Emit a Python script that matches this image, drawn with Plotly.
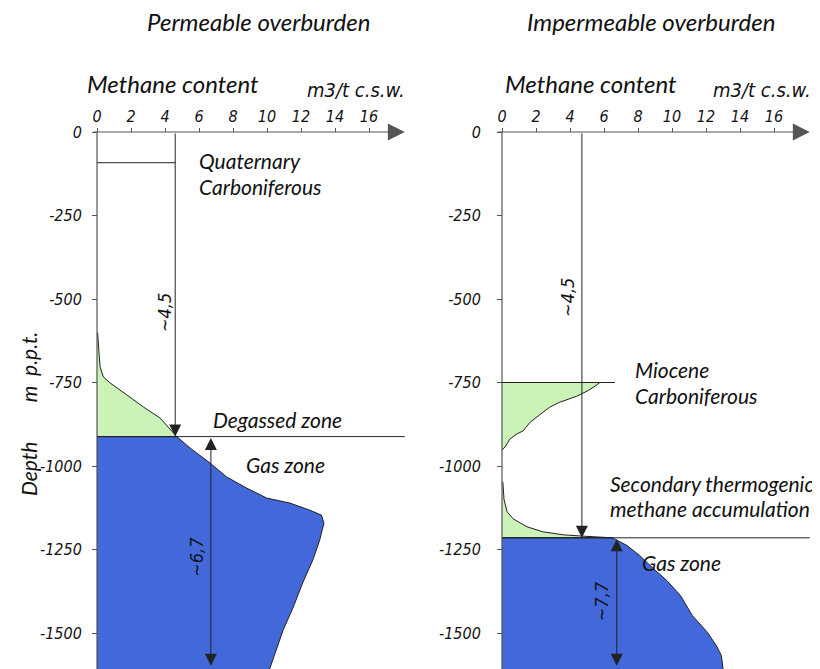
import plotly.graph_objects as go

# ---------------- data ----------------
x_ticks = [0, 2, 4, 6, 8, 10, 12, 14, 16]
y_ticks = [0, -250, -500, -750, -1000, -1250, -1500]
y_ticktext = ["0", "-250", "-500", "-750", "-1000", "-1250", "-1500"]

# Left panel: permeable overburden
L_degassed_x = [0, 0.04, 0.12, 0.18, 0.37, 0.76, 1.75, 2.72, 3.7, 4.69, 0]
L_degassed_y = [-602, -602, -662, -703, -733, -751, -787, -823, -856, -912, -912]
L_gas_x = [0, 4.69, 5.47, 6.65, 7.63, 8.8, 9.98, 11.35, 12.5, 13.2, 13.35, 13.1,
           12.7, 12.1, 11.55, 10.95, 10.4, 10.0, 0]
L_gas_y = [-912, -912, -946, -991, -1033, -1066, -1096, -1111, -1132, -1147, -1171,
           -1222, -1281, -1350, -1422, -1491, -1572, -1630, -1630]
L_quaternary_depth = -92
L_degassed_depth = -912
L_mean_degassed = 4.6
L_gas_arrow_x = 6.7

# Right panel: impermeable overburden
R_miocene_x = [0, 5.76, 5.47, 5.0, 4.4, 3.4, 2.8, 2.25, 1.65, 1.24, 0.88, 0.47, 0.18, 0]
R_miocene_y = [-750, -750, -761, -776, -791, -809, -824, -845, -869, -895, -904, -919, -943, -952]
R_secondary_x = [0, 0.05, 0.12, 0.3, 0.65, 1.47, 2.4, 3.6, 4.76, 6.2, 6.5, 0]
R_secondary_y = [-1048, -1048, -1100, -1137, -1158, -1182, -1197, -1206, -1210, -1213, -1215, -1215]
R_gas_x = [0, 6.5, 7.35, 8.1, 8.9, 9.7, 10.5, 11.2, 12.05, 12.6, 12.9, 13.0, 13.0, 0]
R_gas_y = [-1215, -1215, -1238, -1268, -1307, -1343, -1388, -1448, -1496, -1537, -1567,
           -1605, -1630, -1630]
R_miocene_depth = -750
R_secondary_depth = -1215
R_mean_secondary = 4.7
R_gas_arrow_x = 6.75

GREEN = "rgb(203,243,183)"
BLUE = "rgb(66,104,218)"
LINE = "#222222"
AXC = "#555555"

TXT_FONT = "Lato, Open Sans, sans-serif"
TECH_FONT = "DejaVu Sans Condensed, DejaVu Sans, sans-serif"

OFF = 8                      # page body margin
W, H = 820 - OFF, 669 - OFF
PX_PER_UNIT = 17.0
PX_PER_M = 0.334
ZERO_Y = 132                 # page pixel of depth 0
Y_TOP = (ZERO_Y - OFF) / PX_PER_M
Y_BOT = -(669 - ZERO_Y) / PX_PER_M

fig = go.Figure()

def poly(x, y, color, xa, ya):
    fig.add_trace(go.Scatter(x=x, y=y, mode="lines", fill="toself", fillcolor=color,
                             line=dict(color=LINE, width=1), xaxis=xa, yaxis=ya,
                             hoverinfo="skip", showlegend=False))

poly(L_degassed_x, L_degassed_y, GREEN, "x", "y")
poly(L_gas_x, L_gas_y, BLUE, "x", "y")
poly(R_miocene_x, R_miocene_y, GREEN, "x2", "y2")
poly(R_secondary_x, R_secondary_y, GREEN, "x2", "y2")
poly(R_gas_x, R_gas_y, BLUE, "x2", "y2")

shapes = []
def hline(xr, x0, x1, y, color=LINE, w=1):
    shapes.append(dict(type="line", xref=xr, yref=xr.replace("x", "y"), x0=x0, x1=x1,
                       y0=y, y1=y, line=dict(color=color, width=w)))
def vline(xr, x, y0, y1, color=LINE, w=1):
    shapes.append(dict(type="line", xref=xr, yref=xr.replace("x", "y"), x0=x, x1=x,
                       y0=y0, y1=y1, line=dict(color=color, width=w)))

vline("x", 0, 0, Y_BOT - 20, AXC, 1.2)
hline("x", 0, L_mean_degassed, L_quaternary_depth)
hline("x", 0, 18.1, L_degassed_depth)
vline("x2", 0, 0, Y_BOT - 20, AXC, 1.2)
hline("x2", 0, 6.65, R_miocene_depth)
hline("x2", 0, 18.1, R_secondary_depth)

annotations = []
def arrow(xr, x, y, ax, ay, color=LINE, size=2.4, both=False, w=1):
    annotations.append(dict(xref=xr, yref=xr.replace("x", "y"), axref=xr,
                            ayref=xr.replace("x", "y"), x=x, y=y, ax=ax, ay=ay,
                            text="", showarrow=True, arrowhead=2, arrowsize=size,
                            arrowwidth=w, arrowcolor=color, standoff=0, startstandoff=0,
                            arrowside="end+start" if both else "end", startarrowhead=2,
                            startarrowsize=size))

arrow("x", 18.1, 0, -0.3, 0, AXC, 2.8, w=1.2)
arrow("x2", 18.1, 0, -0.3, 0, AXC, 2.8, w=1.2)
arrow("x", L_mean_degassed, L_degassed_depth, L_mean_degassed, 0)
arrow("x2", R_mean_secondary, R_secondary_depth, R_mean_secondary, 0)
arrow("x", L_gas_arrow_x, -1598, L_gas_arrow_x, L_degassed_depth, both=True)
arrow("x2", R_gas_arrow_x, -1598, R_gas_arrow_x, R_secondary_depth, both=True)

def txt(xr, x, y, s, size=21, xanchor="left", angle=0, font=TXT_FONT):
    annotations.append(dict(xref=xr, yref=xr.replace("x", "y"),
                            x=x, y=y, text=s, showarrow=False, xanchor=xanchor,
                            yanchor="middle", textangle=angle,
                            font=dict(family=font, size=size, color="#111111", style="italic")))

def ptxt(px, py, s, size=24, xanchor="center", angle=0, font=TXT_FONT):
    annotations.append(dict(xref="paper", yref="paper", x=(px - OFF) / W,
                            y=1 - (py - OFF) / H, text=s,
                            showarrow=False, xanchor=xanchor, yanchor="middle",
                            textangle=angle,
                            font=dict(family=font, size=size, color="#111111", style="italic")))

ptxt(258, 22, "Permeable overburden", 24)
ptxt(651, 22, "Impermeable overburden", 24)
ptxt(173, 83, "Methane content", 24)
ptxt(591, 83, "Methane content", 24)
ptxt(356, 90, "m3/t c.s.w.", 20, font=TECH_FONT)
ptxt(762, 90, "m3/t c.s.w.", 20, font=TECH_FONT)
ptxt(28, 414, "Depth" + "\u00a0" * 8 + "m\u00a0\u00a0p.p.t.", 21, angle=-90)

txt("x", 5.88, -84, "Quaternary")
txt("x", 5.88, -162, "Carboniferous")
txt("x", 6.7, -862, "Degassed zone")
txt("x", 8.65, -994, "Gas zone")
txt("x", 3.94, -539, "~4,5", 18, "center", -90, TECH_FONT)
txt("x", 5.88, -1272, "~6,7", 18, "center", -90, TECH_FONT)
txt("x2", 7.7, -710, "Miocene")
txt("x2", 7.7, -790, "Carboniferous")
txt("x2", 6.24, -1051, "Secondary thermogenic")
txt("x2", 6.24, -1126, "methane accumulation")
txt("x2", 8.1, -1290, "Gas zone")
txt("x2", 3.82, -494, "~4,5", 18, "center", -90, TECH_FONT)
txt("x2", 5.9, -1404, "~7,7", 18, "center", -90, TECH_FONT)

tickfont = dict(family=TECH_FONT, size=16, color="#111111", style="italic")

def xax(px0, px1, zero_px):
    return dict(domain=[(px0 - OFF) / W, (px1 - OFF) / W],
                range=[(px0 - zero_px) / PX_PER_UNIT, (px1 - zero_px) / PX_PER_UNIT],
                anchor="free", position=1 - (ZERO_Y - OFF) / H, side="top",
                tickvals=x_ticks, ticks="outside", ticklen=4, tickcolor=AXC,
                ticklabelstandoff=0,
                showgrid=False, zeroline=False, showline=False, tickfont=tickfont,
                fixedrange=True)

def yax(zero_px, standoff):
    return dict(domain=[0, 1], range=[Y_BOT, Y_TOP], anchor="free",
                position=(zero_px - OFF) / W, tickvals=y_ticks, ticktext=y_ticktext,
                ticks="outside", ticklen=5, tickcolor=AXC, ticklabelstandoff=standoff,
                showgrid=False, zeroline=False, showline=False, tickfont=tickfont,
                fixedrange=True)

fig.update_layout(
    width=W, height=H, autosize=False,
    margin=dict(l=0, r=0, t=0, b=0),
    paper_bgcolor="white", plot_bgcolor="white",
    xaxis=xax(60, 420, 97), yaxis=yax(97, 7),
    xaxis2=xax(465, 820, 502), yaxis2=yax(502, 13),
    shapes=shapes, annotations=annotations, showlegend=False,
)

fig.write_html("out.html")
